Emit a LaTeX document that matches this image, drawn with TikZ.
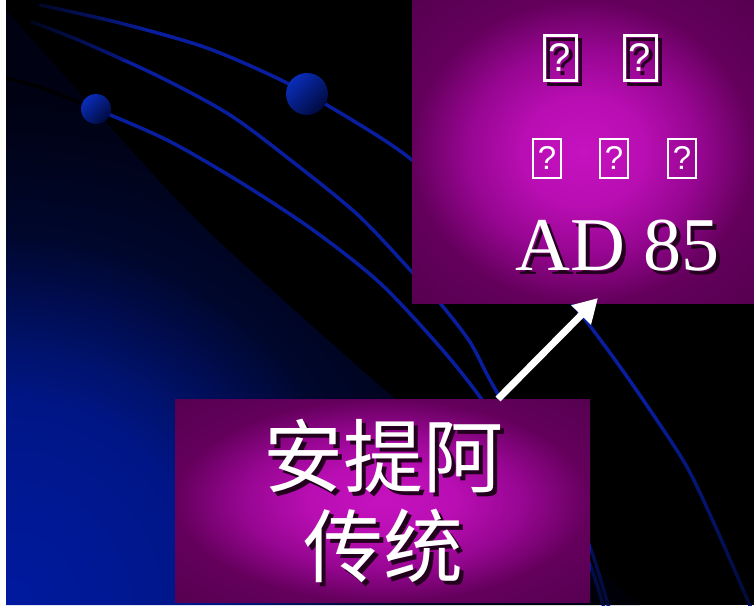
\documentclass[tikz,border=0pt]{standalone}
\usepackage{fontspec}
\setmainfont{Liberation Serif}
\newfontfamily\cjkfont{Noto Sans CJK SC}
\newfontfamily\tofufont{Liberation Sans}
\usetikzlibrary{arrows.meta,fadings}
\definecolor{orbit}{RGB}{8,30,158}
\definecolor{cornerblue}{RGB}{0,26,160}
\definecolor{glowa}{RGB}{0,22,135}
\definecolor{glowb}{RGB}{0,19,112}
\definecolor{glowc}{RGB}{0,13,82}
\definecolor{glowd}{RGB}{0,7,45}
\definecolor{glowe}{RGB}{0,4,30}
\definecolor{edgenavy}{RGB}{0,2,20}
\definecolor{spherelight}{RGB}{10,45,185}
\definecolor{spheredark}{RGB}{0,10,62}
\definecolor{magc}{RGB}{198,18,192}
\definecolor{magm}{RGB}{184,14,178}
\definecolor{magn}{RGB}{150,6,145}
\definecolor{mage}{RGB}{100,0,92}
\definecolor{magk}{RGB}{85,0,80}
\definecolor{dropshade}{RGB}{35,0,30}
\pgfdeclareradialshading{cornerglow}{\pgfpoint{0bp}{0bp}}{color(0bp)=(cornerblue); color(5bp)=(glowa); color(6.25bp)=(glowb); color(7.6bp)=(glowc); color(9.25bp)=(glowd); color(11bp)=(glowe); color(12.5bp)=(edgenavy); color(50bp)=(edgenavy)}
\pgfdeclareradialshading{magglow}{\pgfpoint{0bp}{0bp}}{color(0bp)=(magc); color(9bp)=(magm); color(17bp)=(magn); color(25bp)=(mage); color(36bp)=(magk); color(50bp)=(magk)}
\tikzfading[name=darkleft, left color=transparent!0, right color=transparent!100]
\tikzfading[name=darkdown, top color=transparent!100, bottom color=transparent!35]
\tikzset{
  panel/.style={shade, shading=magglow, inner sep=0pt, outer sep=0pt},
  orbitline/.style={orbit, line width=3.5pt, line cap=round},
  sphere/.style={left color=spherelight, right color=spheredark, shading angle=45},
  bigtofu/.style={draw, line width=3pt, minimum width=32pt, minimum height=45pt, inner sep=0pt, font={\tofufont\fontsize{40}{40}\selectfont}},
  smalltofu/.style={draw, line width=2pt, minimum width=28pt, minimum height=39pt, inner sep=0pt, font={\tofufont\fontsize{33}{33}\selectfont}},
  yeartext/.style={anchor=base west, inner sep=0pt, font={\fontsize{76}{76}\selectfont}},
  cjktext/.style={anchor=base, inner sep=0pt, font={\cjkfont\fontsize{80}{80}\selectfont}},
  pointer/.style={white, line width=7pt, -{Triangle[length=24pt,width=26pt]}}
}
\newcommand{\dropped}[4]{%
  \node[#2, color=dropshade] (#1 drop) at ([shift={(4,4)}]#3) {#4};
  \node[#2, color=white] (#1) at (#3) {#4};}
\begin{document}
\begin{tikzpicture}[x=1pt,y=-1pt]
        \useasboundingbox (0,0) rectangle (754,605);
        \clip (0,0) rectangle (754,605);
        \fill[black] (0,0) rectangle (754,605);
        \begin{scope}
          \clip plot[smooth] coordinates {(6,10) (177,200) (280,297) (393,397) (520,505) (640,605)} -- (6,605) -- cycle;
          \shade[shading=cornerglow] (6,605) circle (1000);
        \end{scope}
        \draw[orbitline, black] plot[smooth] coordinates {(7,78) (45,89) (96,109)};
        \draw[orbitline] plot[smooth] coordinates {(96,109) (167,140) (240,182) (313,230) (380,283) (440,347) (480,397) (530,470) (565,520) (590,565) (606,615)};
        \draw[orbitline] plot[smooth] coordinates {(32,22) (83,42) (160,77) (230,115) (293,162) (358,215) (412,272) (440,303) (470,342) (490,380) (530,450) (565,500) (590,547) (611,615)};
        \draw[orbitline] plot[smooth] coordinates {(40,5) (120,23) (207,48) (287,83) (357,123) (412,160) (480,222) (535,265) (572,303) (613,357) (650,410) (687,467) (717,530) (754,615)};
        \begin{scope}
          \clip plot[smooth] coordinates {(6,10) (177,200) (280,297) (393,397) (520,505) (640,605)} -- (754,605) -- (754,0) -- (6,0) -- cycle;
          \fill[black, path fading=darkleft] (6,0) rectangle (150,60);
        \end{scope}
        \fill[black, path fading=darkdown] (591,400) rectangle (754,605);
        \fill[white] (0,0) rectangle (6,605);
        \shade[sphere] (96,109) circle (15);
        \shade[sphere] (307,94) circle (21);
        \node[panel, minimum width=342pt, minimum height=303pt] (datepanel) at (583,151.5) {};
        \node[panel, minimum width=415pt, minimum height=203pt] (traditionpanel) at (382.5,500.5) {};
        \dropped{q1}{bigtofu}{560,58}{?}
        \dropped{q2}{bigtofu}{640,58}{?}
        \node[smalltofu, color=white] (q3) at (547,158) {?};
        \node[smalltofu, color=white] (q4) at (614,158) {?};
        \node[smalltofu, color=white] (q5) at (682,158) {?};
        \dropped{year}{yeartext}{515,270}{AD 85}
        \dropped{antioch}{cjktext}{383,486}{安提阿}
        \dropped{tradition}{cjktext}{383,576}{传统}
        \coordinate (arrow tail) at ([xshift=-92pt]traditionpanel.north east);
        \coordinate (arrow tip) at ([shift={(186,-5)}]datepanel.south west);
        \draw[pointer] (arrow tail) -- (arrow tip);
\end{tikzpicture}
\end{document}
